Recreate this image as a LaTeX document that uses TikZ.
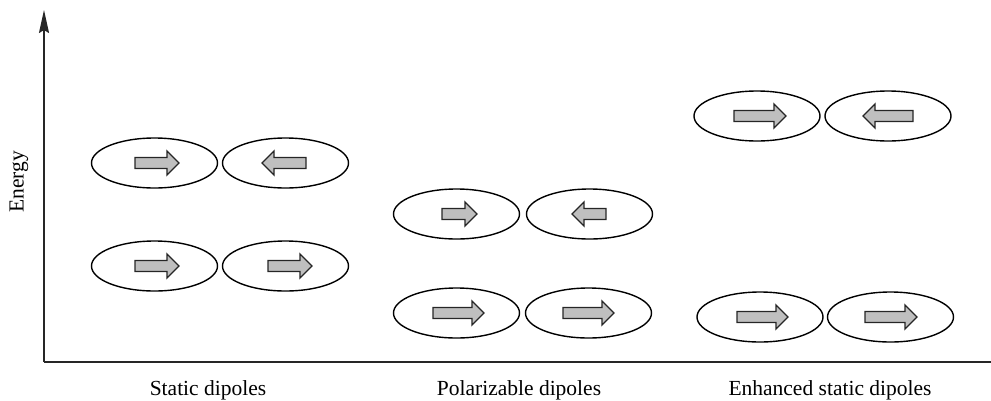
\documentclass[tikz,border=0pt]{standalone}
\usepackage{fontspec}
\setmainfont{Liberation Serif}
\usetikzlibrary{shapes.geometric,arrows.meta}

\tikzset{
  molecule/.style={draw=black, line width=1.4pt, ellipse, minimum width=126pt, minimum height=50pt, inner sep=0pt},
  dipolefill/.style={draw=black!85, fill=black!25, line width=1.3pt, line join=miter},
  axisline/.style={draw=black!85, line width=1.8pt},
  label/.style={font=\fontsize{21.5}{24}\selectfont, inner sep=0pt},
  pics/dipole/.style={code={
    \path[dipolefill] ({-#1/2},-5.5) -- ({#1/2-12},-5.5) -- ({#1/2-12},-12) -- ({#1/2},0)
      -- ({#1/2-12},12) -- ({#1/2-12},5.5) -- ({-#1/2},5.5) -- cycle;
  }}
}

\begin{document}
\begin{tikzpicture}[x=1pt, y=-1pt]
  \useasboundingbox (0,0) rectangle (991,400);

  % axes
  \coordinate (origin) at (44,362);
  \coordinate (ytop) at (44,10);
  \coordinate (xend) at (991,362);
  \draw[axisline, -{Stealth[length=23pt, width=10pt, inset=3pt]}] (origin) -- (ytop);
  \draw[axisline] (origin) -- (xend);

  % static dipoles
  \node[molecule] (s1) at (154.5,163) {};
  \node[molecule] (s2) at (285.5,163) {};
  \node[molecule] (s3) at (154.5,266) {};
  \node[molecule] (s4) at (285.5,266) {};
  \pic at (157,163) {dipole=44};
  \pic[xscale=-1] at (284,163) {dipole=44};
  \pic at (157,266) {dipole=44};
  \pic at (290,266) {dipole=44};

  % polarizable dipoles
  \node[molecule] (p1) at (456.5,214) {};
  \node[molecule] (p2) at (589.5,214) {};
  \node[molecule] (p3) at (456.5,313) {};
  \node[molecule] (p4) at (588.5,313) {};
  \pic at (459.5,214) {dipole=35};
  \pic[xscale=-1] at (589,214) {dipole=34};
  \pic at (458.5,313) {dipole=51};
  \pic at (588.5,313) {dipole=51};

  % enhanced static dipoles
  \node[molecule] (e1) at (757,116) {};
  \node[molecule] (e2) at (888,116) {};
  \node[molecule] (e3) at (760,317) {};
  \node[molecule] (e4) at (890.5,317) {};
  \pic at (760,116) {dipole=52};
  \pic[xscale=-1] at (888,116) {dipole=50};
  \pic at (762.5,317) {dipole=51};
  \pic at (891,317) {dipole=52};

  % labels
  \node[label, rotate=90] (energy) at (19,182) {Energy};
  \node[label, anchor=base] (lstatic) at (208,395) {Static dipoles};
  \node[label, anchor=base] (lpolar) at (519,395) {Polarizable dipoles};
  \node[label, anchor=base] (lenh) at (830,395.5) {Enhanced static dipoles};
\end{tikzpicture}
\end{document}
